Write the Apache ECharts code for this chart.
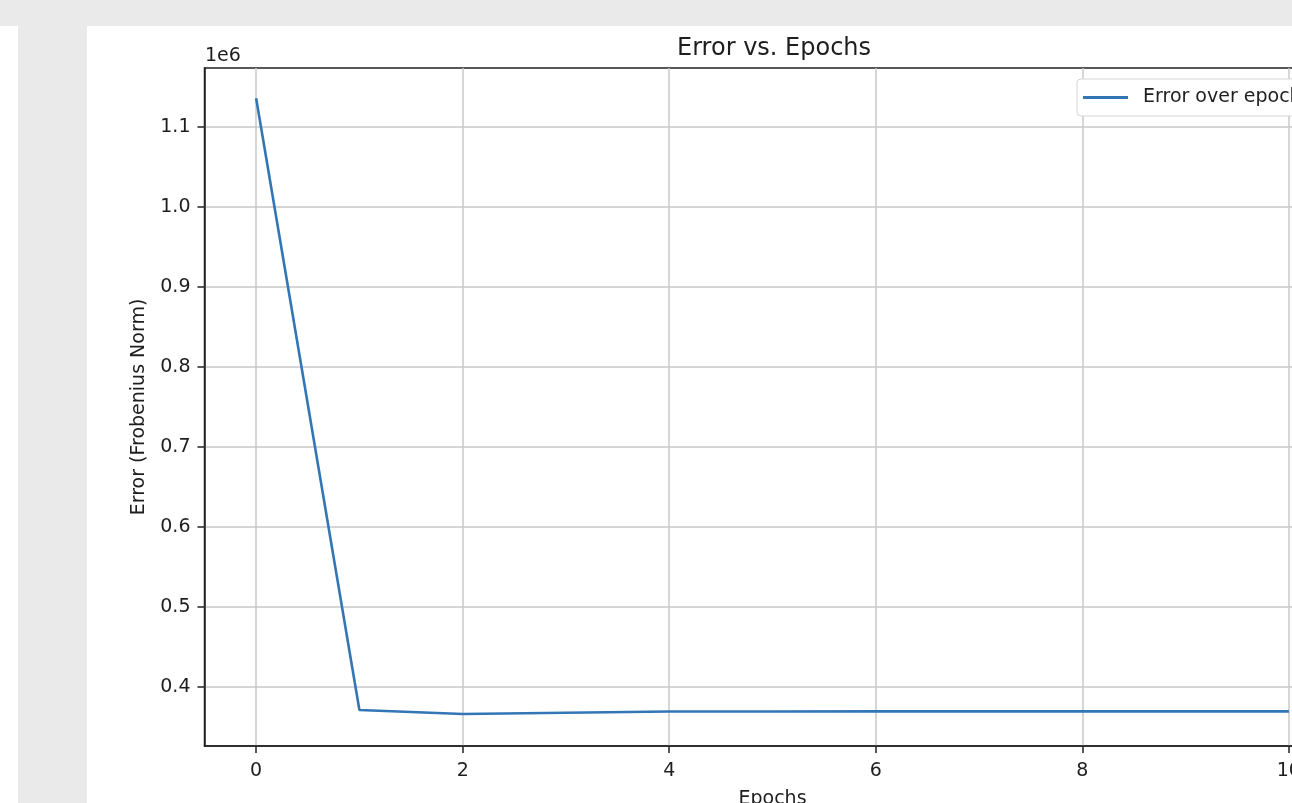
<!DOCTYPE html>
<html>
<head>
<meta charset="utf-8">
<script src="https://cdn.jsdelivr.net/npm/echarts@6/dist/echarts.min.js"></script>
<style>
  html, body { margin: 0; padding: 0; width: 1292px; height: 803px; overflow: hidden; background: #ffffff; }
  #topbar { position: absolute; left: 0; top: 0; width: 1292px; height: 26px; background: #eaeaea; }
  #leftbar { position: absolute; left: 18px; top: 26px; width: 69px; height: 777px; background: #eaeaea; }
  #chart { position: absolute; left: 87px; top: 26px; width: 1320px; height: 777px; background: #ffffff; }
</style>
</head>
<body>
<div id="topbar"></div>
<div id="leftbar"></div>
<div id="chart"></div>
<script>
// ---- data ----
const epochs = [0, 1, 2, 3, 4, 5, 6, 7, 8, 9, 10];
const errors = [1136000, 371300, 366300, 367900, 369300, 369400, 369500, 369500, 369500, 369500, 369500];
const xTicks = [0, 2, 4, 6, 8, 10];
const yTicks = [400000, 500000, 600000, 700000, 800000, 900000, 1000000, 1100000];
const titleText = 'Error vs. Epochs';
const xName = 'Epochs';
const yName = 'Error (Frobenius Norm)';
const seriesName = 'Error over epochs';
const offsetText = '1e6';

const FONT = 'DejaVu Sans';
const TXT = '#1e1e1e';

const chart = echarts.init(document.getElementById('chart'), null, { renderer: 'canvas' });
chart.setOption({
  animation: false,
  backgroundColor: '#ffffff',
  title: [
    { text: titleText, left: 585, top: 6, textStyle: { fontFamily: FONT, fontSize: 24, fontWeight: 'normal', color: TXT } },
    { text: offsetText, left: 113, top: 16, textStyle: { fontFamily: FONT, fontSize: 19, fontWeight: 'normal', color: TXT } }
  ],
  legend: {
    left: 990, top: 53,
    data: [seriesName],
    icon: 'rect', itemWidth: 45, itemHeight: 3,
    backgroundColor: '#ffffff', borderColor: '#d6d6d6', borderWidth: 1, borderRadius: 4,
    padding: [9, 12, 9, 6],
    textStyle: { fontFamily: FONT, fontSize: 19, color: TXT, padding: [0, 0, 0, 10] }
  },
  grid: {
    left: 117.5, top: 42, width: 1136, height: 678,
    outerBoundsMode: 'none', containLabel: false,
    show: true, borderColor: '#222222', borderWidth: 1.5, backgroundColor: 'transparent'
  },
  xAxis: {
    type: 'value', min: -0.5, max: 10.5,
    name: xName, nameLocation: 'middle', nameGap: 44,
    nameTextStyle: { fontFamily: FONT, fontSize: 19, color: TXT },
    axisLine: { show: true, onZero: false, lineStyle: { color: '#222222', width: 1.5 } },
    axisTick: { show: true, length: 7, inside: false, customValues: xTicks, lineStyle: { color: '#222222', width: 1.5 } },
    axisLabel: { customValues: xTicks, margin: 16, fontFamily: FONT, fontSize: 19, color: TXT },
    splitLine: { show: true, lineStyle: { color: '#c8c8c8', width: 1.5 } }
  },
  yAxis: {
    type: 'value', min: 326250, max: 1173750,
    name: yName, nameLocation: 'middle', nameGap: 56, nameRotate: 90,
    nameTextStyle: { fontFamily: FONT, fontSize: 19, color: TXT },
    axisLine: { show: true, onZero: false, lineStyle: { color: '#222222', width: 1.5 } },
    axisTick: { show: true, length: 7, inside: false, customValues: yTicks, lineStyle: { color: '#222222', width: 1.5 } },
    axisLabel: { customValues: yTicks, margin: 14, fontFamily: FONT, fontSize: 19, color: TXT,
      formatter: v => (v / 1e6).toFixed(1) },
    splitLine: { show: true, lineStyle: { color: '#c8c8c8', width: 1.5 } }
  },
  series: [{
    name: seriesName,
    type: 'line',
    data: epochs.map((e, i) => [e, errors[i]]),
    showSymbol: false, symbol: 'none',
    lineStyle: { color: '#3276b6', width: 2.6 },
    itemStyle: { color: '#3276b6' }
  }]
});
</script>
</body>
</html>
